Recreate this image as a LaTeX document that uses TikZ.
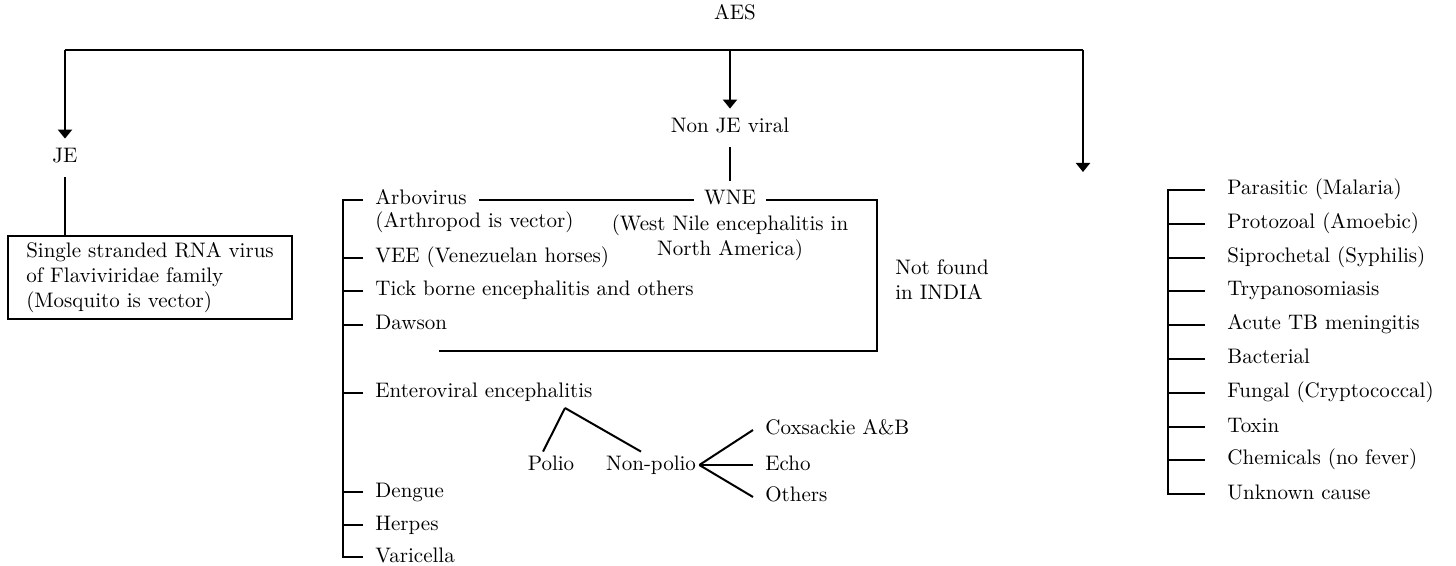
\documentclass[tikz,border=0pt]{standalone}
\usepackage{tikz}
\usetikzlibrary{positioning, arrows.meta, calc}
\tikzset{
  txt/.style   = {font=\fontsize{10.5}{12.5}\selectfont},
  hd/.style    = {txt, inner xsep=2pt, inner ysep=5pt, text height=7pt, text depth=2pt},
  item/.style  = {txt, anchor=west, inner xsep=6pt, inner ysep=0pt,
                  text height=7pt, text depth=2pt},
  cause/.style = {item, inner xsep=11pt},
  leaf/.style  = {txt, inner xsep=1.5pt, inner ysep=2pt, text height=7pt, text depth=2pt},
  note/.style  = {txt, align=center, inner sep=0pt},
  box/.style   = {txt, draw, line width=1pt, align=left,
                  minimum width=142pt, minimum height=40.5pt},
  ln/.style    = {line width=1pt},
  arr/.style   = {ln, -{Triangle[length=4.5pt,width=7pt]}},
}
\begin{document}
\begin{tikzpicture}[x=0.5pt, y=-0.5pt]
  \useasboundingbox (0,0) rectangle (1456,566);

  % TOP: AES and its three branches
  \node[hd] (aes) at (735,15) {AES};
  \coordinate (splitL) at (65,50);
  \coordinate (splitM) at (730,50);
  \coordinate (splitR) at (1083,50);
  \coordinate (rtip) at (1083,172);

  \node[hd] (je) at (65,158) {JE};
  \node[hd] (nonje) at (730,128) {Non JE viral};

  \draw[ln] (splitL) -- (splitR);
  \draw[arr] (splitL) -- (je.north);
  \draw[arr] (splitM) -- (nonje.north);
  \draw[arr] (splitR) -- (rtip);

  % LEFT: JE
  \node[box] (jebox) at (150,277.5)
       {Single stranded RNA virus\\of Flaviviridae family\\(Mosquito is vector)};
  \draw[ln] (je.south) -- (je.south |- jebox.north);

  % MIDDLE: Non JE viral
  \node[hd, inner xsep=5pt] (wne) at (730,200) {WNE};
  \node[note] (wnenote) at (730,238) {(West Nile encephalitis in\\North America)};
  \draw[ln] (nonje.south) -- (wne.north);

  \node[item] (arbo)     at (363,200) {Arbovirus};
  \node[item] (arbonote) at (363,223) {(Arthropod is vector)};
  \node[item] (vee)      at (363,258) {VEE (Venezuelan horses)};
  \node[item] (tick)     at (363,291) {Tick borne encephalitis and others};
  \node[item] (dawson)   at (363,325) {Dawson};
  \node[item] (entero)   at (363,393) {Enteroviral encephalitis};
  \node[item] (dengue)   at (363,492) {Dengue};
  \node[item] (herpes)   at (363,525) {Herpes};
  \node[item] (varic)    at (363,557) {Varicella};

  \draw[ln] (arbo.west) -- ++(-20,0) |- (varic.west);
  \draw[ln] (vee.west) -- ++(-20,0);
  \draw[ln] (tick.west) -- ++(-20,0);
  \draw[ln] (dawson.west) -- ++(-20,0);
  \draw[ln] (entero.west) -- ++(-20,0);
  \draw[ln] (dengue.west) -- ++(-20,0);
  \draw[ln] (herpes.west) -- ++(-20,0);

  % not found in India
  \coordinate (wneB) at (877,351);
  \coordinate (wneEnd) at (439,351);
  \draw[ln] (arbo.east) -- (wne.west);
  \draw[ln] (wne.east) -| (wneB) -- (wneEnd);
  \node[note, align=left, anchor=west] (nf) at (895,280) {Not found\\in INDIA};

  % enteroviral split
  \coordinate (efork) at (565,408);
  \node[leaf] (polio)    at (551,465) {Polio};
  \node[leaf] (nonpolio) at (651,465) {Non-polio};
  \draw[ln] (efork) -- ([xshift=-4pt]polio.north);
  \draw[ln] (efork) -- ([xshift=-5pt]nonpolio.north);

  \node[item] (coxs)   at (753,430) {Coxsackie A\&B};
  \node[item] (echo)   at (753,465) {Echo};
  \node[item] (others) at (753,497) {Others};
  \draw[ln] (nonpolio.east) -- (coxs.west);
  \draw[ln] (nonpolio.east) -- (echo.west);
  \draw[ln] (nonpolio.east) -- (others.west);

  % RIGHT: other causes
  \node[cause] (para)  at (1205,190) {Parasitic (Malaria)};
  \node[cause] (proto) at (1205,224) {Protozoal (Amoebic)};
  \node[cause] (spiro) at (1205,258) {Siprochetal (Syphilis)};
  \node[cause] (trypa) at (1205,291) {Trypanosomiasis};
  \node[cause] (tbm)   at (1205,325) {Acute TB meningitis};
  \node[cause] (bact)  at (1205,359) {Bacterial};
  \node[cause] (fung)  at (1205,393) {Fungal (Cryptococcal)};
  \node[cause] (toxin) at (1205,427) {Toxin};
  \node[cause] (chem)  at (1205,460) {Chemicals (no fever)};
  \node[cause] (unkn)  at (1205,494) {Unknown cause};

  \draw[ln] (para.west) -- ++(-37,0) |- (unkn.west);
  \draw[ln] (proto.west) -- ++(-37,0);
  \draw[ln] (spiro.west) -- ++(-37,0);
  \draw[ln] (trypa.west) -- ++(-37,0);
  \draw[ln] (tbm.west) -- ++(-37,0);
  \draw[ln] (bact.west) -- ++(-37,0);
  \draw[ln] (fung.west) -- ++(-37,0);
  \draw[ln] (toxin.west) -- ++(-37,0);
  \draw[ln] (chem.west) -- ++(-37,0);

\end{tikzpicture}
\end{document}
